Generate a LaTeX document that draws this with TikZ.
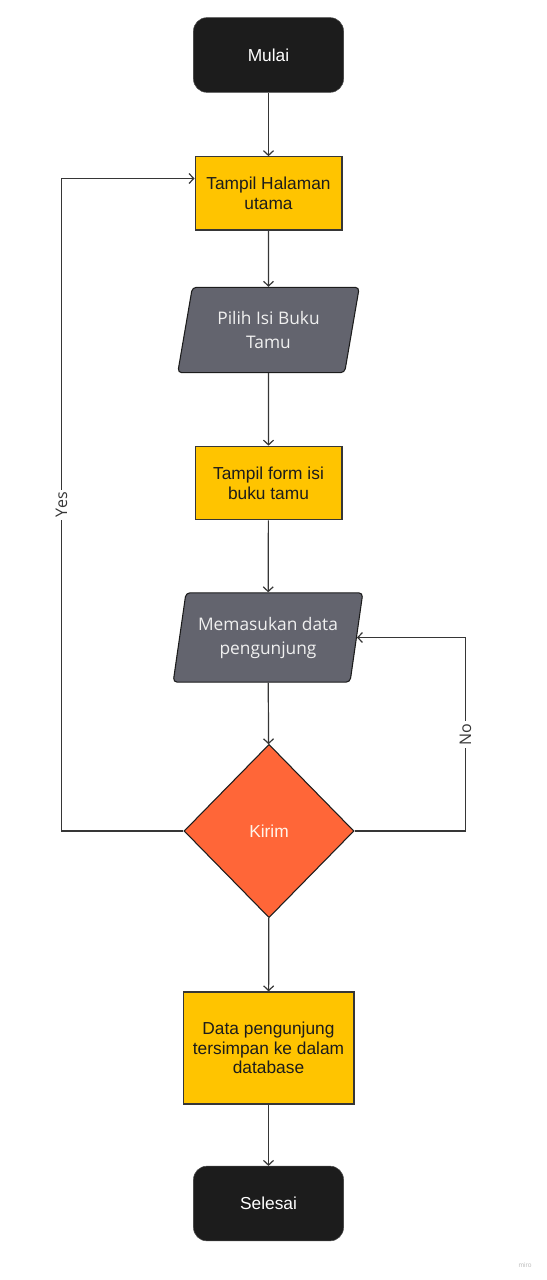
\documentclass[tikz,border=0pt]{standalone}
\usepackage{fontspec}
\setmainfont{Liberation Sans}
\newfontfamily\opensans{Open Sans}
\usetikzlibrary{positioning, arrows.meta, shapes.geometric}
\definecolor{boxyellow}{HTML}{FFC400}
\definecolor{inputgray}{HTML}{63646E}
\definecolor{decorange}{HTML}{FF6638}
\definecolor{termblack}{HTML}{1C1C1C}
\definecolor{linegray}{HTML}{363636}

\begin{document}
\begin{tikzpicture}[
    x=0.75pt, y=-0.75pt,
    % GLOBAL CFG
    font=\fontsize{13}{15}\selectfont,
    >={Straight Barb[length=3.5pt,width=7.5pt]},
    % Styles
    terminal/.style={% Start and end
        rectangle,
        rounded corners=10pt,
        fill=termblack,
        draw=termblack!80,
        text=white,
        minimum width=112.5pt,
        minimum height=56pt,
        },
    process/.style={% Yellow boxes
        rectangle,
        fill=boxyellow,
        draw=linegray,
        line width=1pt,
        text=termblack,
        align=center,
        minimum width=110pt,
        minimum height=55pt,
        },
    inout/.style={% Parallelograms for input
        trapezium,
        trapezium left angle=77,
        trapezium right angle=103,
        trapezium stretches=true,
        rounded corners=3pt,
        fill=inputgray,
        draw=termblack,
        line width=0.8pt,
        text=white!94!black,
        align=center,
        font=\opensans\fontsize{13}{18}\selectfont,
        },
    decision/.style={% Diamond
        diamond,
        fill=decorange,
        draw=termblack,
        line width=0.8pt,
        text=white!92!orange,
        inner sep=0pt,
        minimum width=127.5pt,
        minimum height=130pt,
        },
    flow/.style={% Connectors
        ->,
        draw=linegray,
        line width=0.9pt,
        },
    looplabel/.style={% Yes and No
        fill=white,
        rotate=90,
        text=linegray,
        inner sep=2pt,
        font=\opensans\fontsize{12}{14}\selectfont,
        },
    ]

    \useasboundingbox (0,0) rectangle (546,1280);

    % Nodes from top to bottom
    \node [terminal] (mulai) at (268.5,55) {Mulai};
    \node [process] (tampil) at (268.5,193.5) {Tampil Halaman\\utama};
    \node [inout, minimum width=137pt, minimum height=64pt] (pilih) at (268.5,330) {Pilih Isi Buku\\Tamu};
    \node [process] (form) at (268.5,483) {Tampil form isi\\buku tamu};
    \node [inout, minimum width=142.5pt, minimum height=67pt] (masuk) at (268,637.5) {Memasukan data\\pengunjung};
    \node [decision] (kirim) at (269,831) {Kirim};
    \node [process, minimum width=128pt, minimum height=84pt, font=\fontsize{13}{14.5}\selectfont] (simpan) at (268.5,1048) {Data pengunjung\\tersimpan ke dalam\\database};
    \node [terminal] (selesai) at (268.5,1203.5) {Selesai};

    % Main flow
    \draw [flow] (mulai) -- (tampil);
    \draw [flow] (tampil) -- (pilih);
    \draw [flow] (pilih) -- (form);
    \draw [flow] (form) -- (masuk);
    \draw [flow] (masuk) -- (kirim);
    \draw [flow] (kirim) -- (simpan);
    \draw [flow] (simpan) -- (selesai);

    % Loops
    \draw [flow] (kirim.west) -- ++(-122,0) |- node [looplabel, pos=0.25] {Yes} ([yshift=11.25pt]tampil.west);
    \draw [flow] (kirim.east) -- ++(111,0) |- node [looplabel, pos=0.25] {No} (masuk.east);

    % Watermark
    \node [text=black!25, font=\fontsize{5}{6}\selectfont] (miro) at (525,1265) {miro};
\end{tikzpicture}
\end{document}
